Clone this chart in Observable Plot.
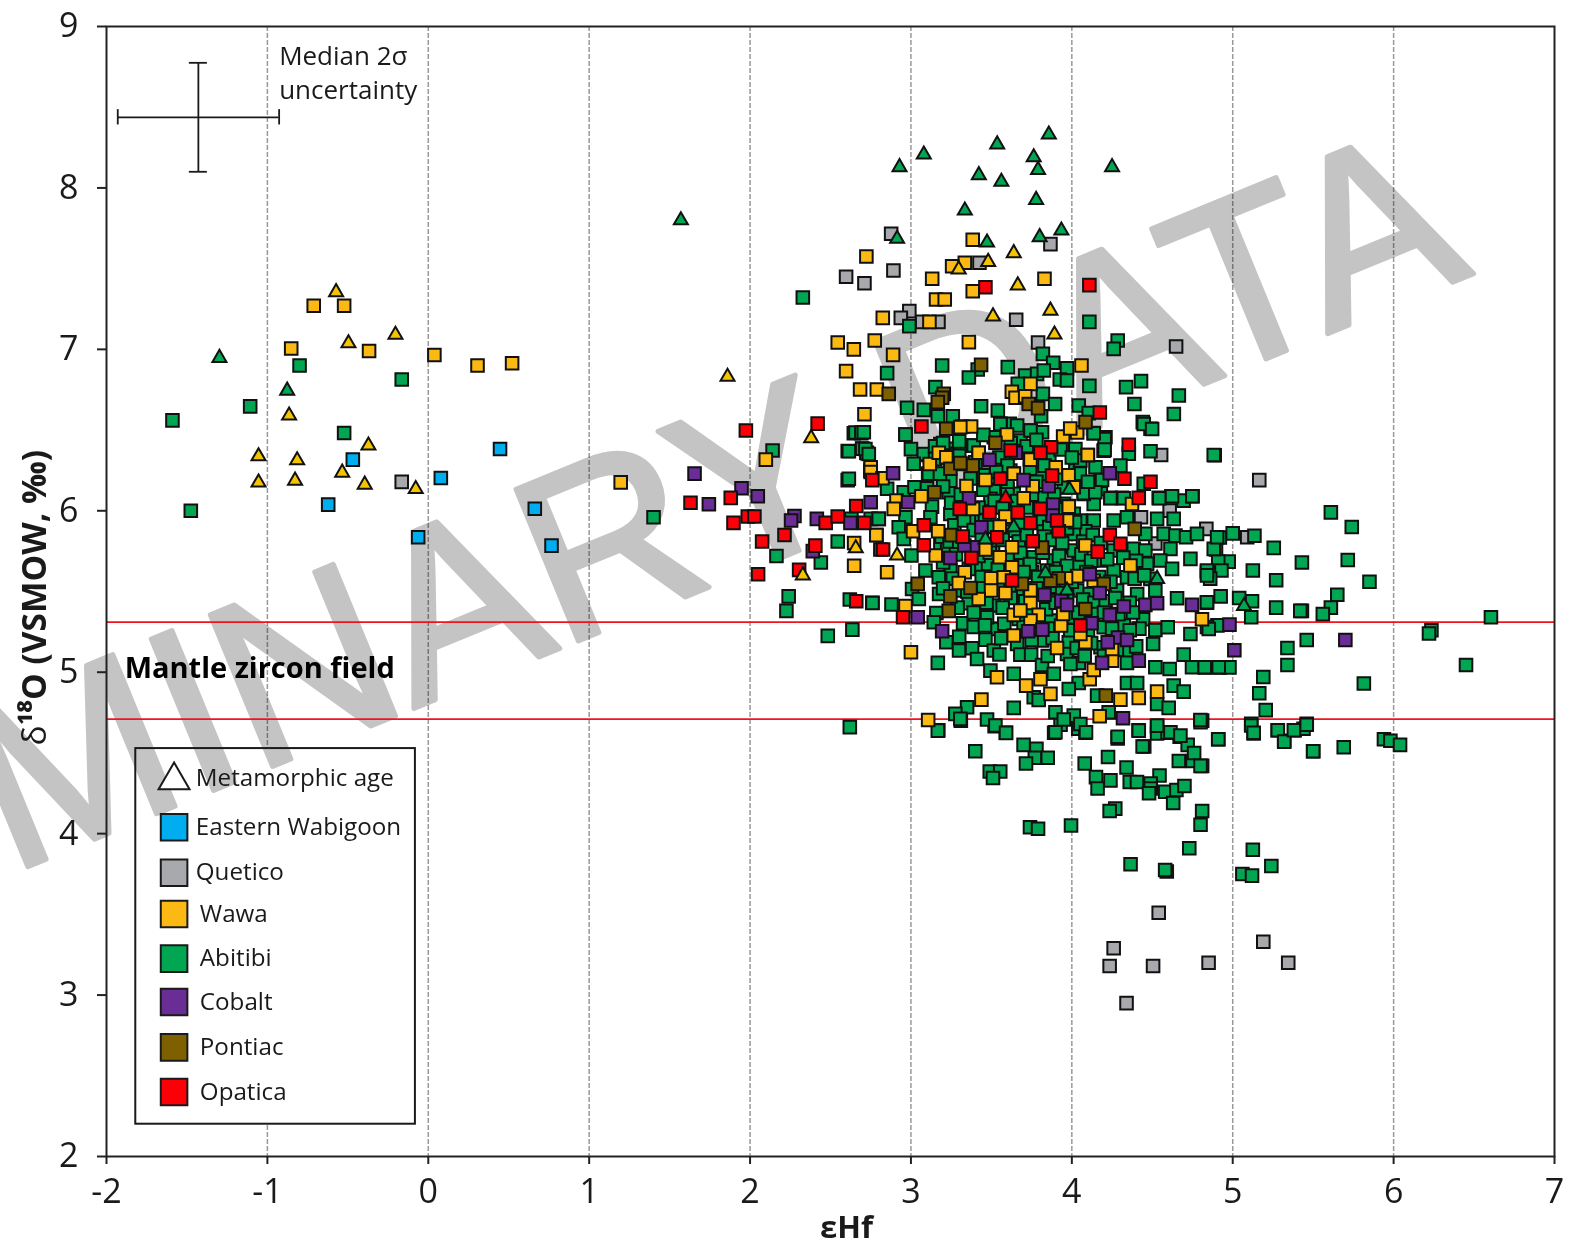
<!DOCTYPE html>
<html>
<head>
<meta charset="utf-8">
<script src="https://cdn.jsdelivr.net/npm/d3@7"></script>
<script src="https://cdn.jsdelivr.net/npm/@observablehq/plot@0.6"></script>
<style>html,body{margin:0;padding:0;background:#fff}svg{display:block}</style>
</head>
<body>
<div id="chart"></div>
<script>
const xTicks=[-2,-1,0,1,2,3,4,5,6,7];
const yTicks=[2,3,4,5,6,7,8,9];
const mantleField=[5.31,4.71];

const metaGreen=[[3.857,8.331],[3.536,8.27],[3.08,8.207],[3.763,8.19],[2.929,8.129],[3.79,8.112],[3.422,8.079],[3.562,8.038],[4.25,8.129],[3.778,7.926],[3.335,7.86],[2.914,7.685],[3.473,7.662],[3.8,7.695],[3.935,7.736],[-1.298,6.947],[-0.877,6.744],[1.57,7.8],[5.07,5.41],[3.985,6.131],[3.463,5.822],[3.639,5.898],[3.836,5.613],[3.97,5.506],[4.53,5.578]];
const metaWawa=[[3.639,7.596],[3.48,7.542],[3.297,7.495],[3.664,7.396],[3.867,7.24],[3.51,7.204],[3.892,7.092],[2.38,6.45],[1.86,6.83],[2.657,5.768],[2.328,5.6],[2.914,5.723],[-0.573,7.354],[-0.496,7.038],[-0.204,7.09],[-0.865,6.59],[-0.372,6.404],[-1.055,6.338],[-0.815,6.313],[-0.535,6.236],[-1.055,6.175],[-0.828,6.187],[-0.395,6.162],[-0.078,6.135]];
const metaOpatica=[[3.589,6.078]];

const easternWabigoon=[[0.446,6.383],[-0.469,6.317],[0.078,6.203],[-0.622,6.038],[0.662,6.013],[-0.063,5.836],[0.766,5.784]];
const quetico=[[-0.165,6.179],[2.877,7.716],[3.867,7.652],[3.426,7.536],[2.597,7.45],[2.891,7.489],[2.711,7.41],[2.99,7.237],[2.937,7.195],[3.07,7.17],[3.171,7.17],[3.654,7.183],[3.79,7.042],[4.648,7.018],[4.555,6.346],[5.165,6.19],[4.608,6.001],[4.43,5.96],[4.519,5.797],[4.836,5.888],[3.508,6.208],[5.09,5.836],[4.54,3.51],[4.26,3.29],[4.235,3.18],[4.505,3.18],[4.85,3.2],[5.19,3.33],[5.345,3.2],[4.34,2.95]];
const abitibi=[
[5.61,5.99],[5.74,5.9],[5.255,5.77],[5.43,5.68],[5.715,5.695],[5.125,5.63],[5.27,5.57],[5.85,5.56],[5.65,5.48],[5.61,5.4],[5.56,5.36],[5.27,5.4],[5.43,5.38],[5.42,5.38],[5.12,5.44],[5.04,5.46],[5.115,5.34],[4.925,5.47],[4.84,5.43],[6.605,5.34],[6.235,5.26],[6.22,5.24],[5.46,5.2],[5.34,5.15],[5.34,5.045],[6.45,5.045],[5.815,4.93],[5.19,4.97],[5.165,4.87],[5.205,4.765],[4.83,5.03],[4.92,5.03],[4.98,5.03],[5.115,4.68],[5.13,4.62],[5.28,4.64],[5.32,4.575],[5.385,4.64],[5.44,4.65],[5.46,4.68],[5.5,4.51],[5.69,4.535],[5.94,4.585],[5.98,4.575],[6.04,4.55],[4.91,4.585],[4.81,4.42],[4.81,4.7],[4.896,5.76],[4.975,5.685],[4.91,5.685],[4.93,5.63],[4.84,5.62],[4.86,5.58],[4.92,5.835],[5,5.86],[5.135,5.845],[4.905,5.29],[4.84,5.28],
[3.17,4.64],[3.31,4.7],[3.52,4.665],[3.59,4.625],[3.4,4.51],[3.7,4.55],[3.78,4.525],[3.85,4.47],[3.77,4.47],[3.715,4.435],[3.49,4.385],[3.555,4.385],[3.51,4.345],[3.89,4.625],[3.93,4.675],[4.04,4.65],[4.085,4.625],[4.285,4.59],[4.415,4.64],[4.53,4.66],[4.53,4.62],[4.595,4.625],[4.67,4.6],[4.72,4.55],[4.91,4.585],[4.45,4.54],[4.44,4.54],[4.225,4.475],[4.08,4.435],[4.34,4.41],[4.15,4.35],[4.24,4.33],[4.16,4.28],[4.36,4.32],[4.405,4.32],[4.545,4.36],[4.49,4.31],[4.49,4.28],[4.48,4.25],[4.58,4.26],[4.65,4.27],[4.7,4.295],[4.63,4.19],[4.665,4.45],[4.75,4.45],[4.76,4.5],[4.8,4.42],[4.81,4.14],[4.8,4.055],[4.27,4.155],[4.235,4.14],[3.74,4.04],[3.79,4.03],[3.995,4.05],[4.73,3.91],[4.365,3.81],[4.59,3.765],[4.58,3.775],[5.125,3.9],[5.24,3.8],[5.06,3.75],[5.12,3.74],[5.115,4.67],[5.13,4.625],[5.28,4.64],[5.32,4.57],[5.38,4.64],[5.46,4.675],[5.5,4.51],[4.8,4.69],
[1.4,5.96],[2.14,6.373],[2.645,6.48],[2.69,6.48],[2.607,6.37],[2.697,6.386],[2.727,6.357],[2.607,6.19],[2.75,6.26],[2.164,5.72],[2.545,5.81],[2.44,5.68],[2.24,5.47],[2.226,5.38],[2.62,5.45],[2.76,5.43],[2.636,5.264],[2.483,5.225],[2.62,4.66],[2.75,5.95],[2.8,5.95],[2.63,5.95],
[-0.8,6.9],[-0.165,6.813],[-1.107,6.647],[-1.59,6.56],[-0.523,6.482],[-1.476,6],
[2.328,7.321],[4.109,7.17],[2.99,7.144],[4.285,7.055],[4.26,7.003],[3.82,6.972],[3.884,6.917],[3.194,6.9],[3.602,6.89],[3.415,6.875],[3.97,6.883],[2.852,6.853],[3.36,6.826],[3.71,6.838],[3.784,6.848],[3.826,6.869],[3.925,6.813],[3.97,6.807],[3.664,6.786],[4.43,6.803],[4.337,6.766],[4.109,6.774],[3.152,6.766],[3.82,6.724],[4.389,6.662],[3.896,6.662],[3.436,6.648],[3.54,6.621],[2.976,6.638],[3.08,6.625],[4.043,6.652],[4.634,6.6],[3.167,6.586],[3.26,6.586],[3.809,6.586],[4.105,6.605],[4.441,6.549],[4.489,6.508],[3.614,6.539],[3.556,6.539],[3.743,6.497],[3.815,6.487],[4.209,6.456],[4.136,6.481],[2.966,6.473],[2.655,6.485],[2.692,6.485],[2.614,6.369],[2.697,6.384],[2.723,6.359],[3,6.382],[4.018,6.38],[4.2,6.373],[4.354,6.353],[4.489,6.369],[3.1,6.346],[3.256,6.384],[3.38,6.404],[3.515,6.456],[3.68,6.435],[4.302,6.28],[2.614,6.198],[4.665,6.714],[3.107,6.229],[3.287,6.353],[3.453,6.25],[3.556,6.29],[3.618,6.249],[3.805,6.229],[4.147,6.27],[4.022,6.249],
[4.888,6.344],[4.54,6.08],[4.619,6.09],[4.695,6.063],[4.75,6.09],[4.24,6.08],[4.312,6.08],[4.136,6.042],[4.074,6.104],[4.18,6.135],[4.178,6.187],[4.198,6.372],
[2.966,6.472],[2.707,6.487],[3.743,6.497],[4.204,6.445],[4.136,6.48],[4.447,6.538],[4.499,6.507],[3.556,6.538],[3.66,6.528],[2.717,6.383],[2.738,6.352],[4.022,6.383],[4.204,6.379],[4.882,6.346],[3.08,6.352],[3.307,6.404],[3.39,6.404],[3.183,6.414],[2.748,6.249],[3.111,6.229],[4.447,6.167],[4.188,6.191],[4.053,6.311],[3.836,6.301],[3.598,6.301],[3.017,6.291],
[2.852,6.136],[3.235,6.115],[4.074,6.109],[4.146,6.115],[4.24,6.078],[4.323,6.078],[4.544,6.078],[4.623,6.09],[4.749,6.09],[2.955,6.115],[3.131,6.026],[3.022,6.146],[3.95,6.146],[3.515,6.125],[3.639,6.105],[3.245,6.187],[3.494,6.074],
[2.8,5.95],[2.966,5.96],[3.245,5.98],[4.012,5.981],[4.136,5.94],[4.053,5.94],[4.343,5.96],[4.53,5.95],[2.924,5.898],[3.121,5.96],[3.411,5.96],[3.639,6.022],[3.95,6.043],[4.633,5.95],[4.084,5.873],[4.26,5.94],[4.457,5.857],[4.571,5.857],[4.644,5.846],[4.71,5.836],[4.778,5.857],[4.882,5.764],[4.903,5.836],[2.955,5.826],[3.639,5.877],[3.825,5.898],[4.012,5.857],[3.183,5.795],
[3.003,5.723],[3.929,5.774],[4.012,5.754],[4.385,5.764],[4.613,5.764],[4.737,5.702],[4.457,5.754],[4.26,5.754],[3.225,5.764],[3.66,5.692],[3.473,5.671],[3.763,5.712],[4.177,5.692],[3.888,5.692],[4.55,5.692],[4.623,5.64],[4.468,5.671],[4.84,5.63],[4.84,5.6],[4.26,5.63],[4.043,5.671],[3.753,5.619],[3.401,5.65],[3.245,5.63],[3.09,5.63],[3.173,5.588],[4.343,5.588],[4.488,5.578],[3.846,5.63],
[3.007,5.516],[4.406,5.485],[4.105,5.485],[4.281,5.506],[4.519,5.506],[4.654,5.458],[4.84,5.433],[4.033,5.506],[3.66,5.506],[3.307,5.506],[3.97,5.475],[3.175,5.485],[2.761,5.429],[2.879,5.419],[3.049,5.454],[3.359,5.427],[3.888,5.444],[3.515,5.413],
[3.158,5.367],[3.142,5.31],[3.324,5.303],[4.443,5.328],[4.519,5.262],[4.596,5.279],[4.737,5.237],[4.851,5.268],[3.525,5.268],[3.473,5.34],[4.323,5.289],[3.867,5.32],[4.012,5.34],[4.198,5.279],
[3.22,5.186],[3.463,5.202],[3.66,5.175],[3.981,5.186],[4.343,5.134],[4.505,5.175],[3.815,5.196],[4.178,5.155],[3.299,5.134],[3.38,5.148],[3.515,5.134],[3.68,5.109],[3.747,5.109],[4.695,5.109],[3.97,5.113],
[3.167,5.058],[3.411,5.082],[3.815,5.045],[4.043,5.058],[3.991,5.051],[4.343,5.058],[4.519,5.031],[4.608,5.02],[4.747,5.031],[4.826,5.031],[4.913,5.031],[3.494,5.01],[3.639,4.99],[3.888,4.99],
[4.043,4.933],[4.343,4.933],[4.406,4.933],[3.981,4.896],[4.633,4.917],[4.695,4.88],[3.763,4.845],[3.794,4.828],[4.157,4.855],[4.53,4.803],[4.602,4.779],[3.639,4.779],[3.349,4.783],[3.276,4.742],[3.307,4.711],[3.473,4.707],[3.898,4.752],[4.012,4.731],[4.053,4.679],[3.95,4.707],[4.229,4.752],[4.799,4.704],[4.53,4.669],[4.416,4.638],[3.525,4.67],[3.591,4.624],[3.167,4.638],[3.898,4.628],[4.088,4.628],[4.285,4.6],[4.613,4.628],[4.675,4.607],
[3.25,6.05],[3.31,6.1],[3.36,5.95],[3.42,6.02],[3.45,6.13],[3.52,6.06],[3.57,6.02],[3.6,6.13],[3.66,6.06],[3.72,6.02],[3.76,6.1],[3.83,6.08],[3.89,6.1],[3.93,6.01],[3.27,5.91],[3.33,5.94],[3.39,5.88],[3.46,5.94],[3.5,5.9],[3.58,5.91],[3.62,5.95],[3.68,5.92],[3.8,5.95],[3.86,5.9],[3.97,5.89],[4.02,5.93],[3.19,5.84],[3.24,5.81],[3.3,5.79],[3.44,5.83],[3.51,5.79],[3.57,5.82],[3.67,5.81],[3.72,5.85],[3.83,5.84],[3.88,5.82],[3.94,5.8],[4.07,5.81],[4.13,5.85],[4.18,5.8],[3.28,5.73],[3.36,5.64],[3.42,5.72],[3.49,5.74],[3.6,5.71],[3.68,5.74],[3.74,5.67],[3.82,5.74],[3.92,5.72],[3.97,5.66],[4.06,5.73],[4.12,5.69],[4.22,5.7],[4.32,5.71],[4.4,5.69],[3.2,5.68],[3.26,5.58],[3.44,5.59],[3.54,5.64],[3.7,5.62],[3.79,5.59],[3.9,5.62],[4,5.56],[4.09,5.62],[4.17,5.59],[4.24,5.56],[4.39,5.58],[4.45,5.6],[3.2,5.52],[3.35,5.5],[3.45,5.52],[3.54,5.55],[3.62,5.46],[3.71,5.44],[3.78,5.52],[3.89,5.53],[3.94,5.49],[4.07,5.45],[4.14,5.43],[4.21,5.44],[4.27,5.46],[4.36,5.43],[3.29,5.4],[3.39,5.37],[3.47,5.43],[3.57,5.4],[3.67,5.33],[3.72,5.38],[3.84,5.39],[3.9,5.43],[4.04,5.37],[4.13,5.36],[4.2,5.37],[4.29,5.36],[4.38,5.37],[4.42,5.27],[3.39,5.28],[3.46,5.29],[3.58,5.3],[3.7,5.28],[3.77,5.31],[3.85,5.27],[3.99,5.26],[4.1,5.25],[4.25,5.27],[4.36,5.26],[3.3,5.22],[3.56,5.21],[3.75,5.2],[3.88,5.21],[4.03,5.15],[4.12,5.18],[4.28,5.14],[4.4,5.16],[3.55,5.11],[3.85,5.1],[4.08,5.1],[4.2,5.1],
[3.15,6.4],[3.2,6.42],[3.3,6.43],[3.45,6.47],[3.62,6.42],[3.66,6.37],[3.72,6.4],[3.78,6.44],[3.86,6.34],[3.93,6.38],[3.55,6.33],[3.3,6.34],[3.4,6.3],[3.15,6.32],[3.6,6.28],[3.74,6.26],[3.83,6.28],[3.9,6.2],[3.53,6.24],[3.45,6.22],[3.18,6.23],[3.1,6.14],[3.2,6.15],[3.37,6.2],[3.6,6.18],[3.78,6.18],[4.05,6.23],[4.1,6.18],[4,6.33]
];
const wawa=[
[-0.712,7.27],[-0.523,7.27],[-0.852,7.005],[-0.368,6.99],[0.038,6.965],[0.306,6.9],[0.521,6.914],[1.196,6.176],
[3.384,7.679],[2.723,7.575],[3.335,7.536],[3.256,7.515],[3.132,7.437],[3.83,7.437],[3.384,7.36],[3.156,7.309],[3.21,7.309],[2.825,7.195],[3.115,7.17],[2.545,7.042],[2.645,7],[2.775,7.055],[2.889,6.966],[3.36,7.045],[4.06,6.9],[2.597,6.865],[2.684,6.751],[2.788,6.751],[2.711,6.598],[3.627,6.737],[3.743,6.786],[3.65,6.7],[3.71,6.71],[3.32,6.522],[3.374,6.522],[3.597,6.473],[3.946,6.46],[4.033,6.485],[4.1,6.345],[3.117,6.29],[3.173,6.36],[3.225,6.33],[3.308,6.29],[3.42,6.36],[3.739,6.32],[3.9,6.27],[3.98,6.22],[3.64,6.23],[2.75,6.27],[3.99,6.51],
[2.098,6.317],[2.647,5.66],[2.647,5.8],[2.786,5.85],[2.75,6.24],
[4.374,6.042],[3.98,6.03],
[4.099,6.346],[3.22,6.332],[3.421,6.359],[3.743,6.317],[3.639,6.229],[3.345,6.154],[3.463,6.191],[3.757,6.152],[2.823,6.202],[3.065,6.09],[2.91,6.063],[3.701,6.078],[3.981,6.026],[3.386,6.012],[3.587,5.964],[3.552,5.902],[3.97,5.94],[3.013,5.873],[3.169,5.873],[2.785,5.849],[3.628,5.774],[4.084,5.785],[3.463,5.76],[3.154,5.723],[3.552,5.712],[4.364,5.661],[3.334,5.619],[2.852,5.619],[4.033,5.595],[3.964,5.582],[3.498,5.582],[3.297,5.553],[3.498,5.506],[3.587,5.491],[3.743,5.506],[3.421,5.454],[3.743,5.429],[2.966,5.41],[3.639,5.355],[3.794,5.355],[4.809,5.328],[3.933,5.289],[3.639,5.227],[4.084,5.186],[3.908,5.15],[4.25,5.072],[3,5.124],[3.535,4.969],[3.805,4.956],[4.111,4.956],[3.716,4.917],[3.867,4.866],[3.438,4.83],[4.302,4.83],[4.416,4.841],[4.53,4.88],[3.107,4.704],[4.173,4.727],[4.136,5.567],[4.136,5.014],[4.053,5.237],[3.946,5.361],[4.25,5.144],[3.628,5.65],[3.577,5.588],[4.012,6.146],[3.307,6.518],[2.893,6.012],[3.743,5.32],[3.68,5.382]
];
const cobalt=[[1.655,6.23],[1.744,6.04],[1.947,6.14],[2.048,6.09],[2.276,5.968],[2.255,5.94],[2.415,5.95],[2.624,5.925],[2.75,6.053],[2.39,5.75],[3.488,6.316],[3.652,6.36],[2.889,6.233],[4.236,6.233],[3.7,6.19],[3.856,6.152],[2.982,6.053],[3.361,6.078],[3.883,6.039],[3.881,5.97],[3.438,5.898],[3.386,5.774],[3.332,5.785],[3.245,5.708],[4.111,5.607],[4.173,5.491],[3.83,5.48],[3.935,5.442],[3.97,5.417],[4.323,5.407],[4.457,5.417],[4.53,5.427],[4.747,5.417],[3.042,5.34],[4.236,5.355],[4.122,5.303],[3.194,5.254],[3.728,5.254],[3.817,5.264],[4.287,5.215],[4.223,5.186],[4.343,5.2],[4.188,5.058],[4.416,5.072],[4.318,4.715],[4.98,5.295],[5.01,5.136],[5.7,5.2]];
const pontiac=[[3.436,6.904],[2.862,6.724],[3.204,6.724],[3.194,6.7],[3.167,6.673],[3.732,6.662],[3.79,6.636],[3.219,6.508],[4.085,6.549],[3.525,6.421],[3.384,6.28],[3.245,6.26],[3.307,6.295],[3.146,6.115],[3.252,5.849],[4.391,5.888],[3.815,5.772],[3.042,5.547],[3.37,5.522],[3.245,5.47],[3.235,5.38],[3.919,5.582],[4.084,5.392],[4.198,5.547],[4.211,4.855],[3.867,5.567],[3.69,5.547]];
const opatica=[[1.974,6.497],[2.42,6.54],[1.88,6.08],[1.63,6.05],[1.897,5.925],[1.986,5.965],[2.027,5.965],[2.075,5.81],[2.214,5.85],[2.47,5.925],[2.545,5.965],[2.66,6.03],[2.71,5.925],[2.76,6.19],[2.05,5.607],[2.305,5.634],[2.66,5.44],[2.406,5.784],[2.81,5.76],[3.463,7.385],[4.109,7.398],[3.065,6.522],[4.174,6.609],[4.354,6.409],[3.871,6.394],[3.805,6.36],[3.62,6.373],[4.327,6.198],[3.877,6.218],[3.556,6.198],[4.489,6.18],[4.416,6.08],[3.303,6.012],[3.488,5.989],[3.664,5.989],[3.805,6.012],[3.08,5.91],[3.743,5.925],[3.919,5.873],[4.236,5.849],[3.322,5.84],[3.535,5.836],[3.757,5.811],[2.827,5.76],[3.08,5.787],[4.302,5.795],[4.161,5.747],[3.376,5.708],[3.628,5.568],[2.951,5.34],[4.053,5.289],[3.908,5.94]];

const groups=[
  ["Eastern Wabigoon","#00aeef",easternWabigoon],
  ["Quetico","#a7a9ac",quetico],
  ["Abitibi","#00a651",abitibi],
  ["Wawa","#fdb913",wawa],
  ["Pontiac","#7f6000",pontiac],
  ["Cobalt","#6a2d96",cobalt],
  ["Opatica","#fb0007",opatica]
];
const triangles=[["#00a651",metaGreen],["#f5c400",metaWawa],["#fb0007",metaOpatica]];

const legendOrder=["Eastern Wabigoon","Quetico","Wawa","Abitibi","Cobalt","Pontiac","Opatica"];
const legendColors=["#00aeef","#a7a9ac","#fdb913","#00a651","#6a2d96","#7f6000","#fb0007"];
const legendY=[4.04,3.758,3.502,3.226,2.957,2.676,2.4];
const legendTextX=[-1.435,-1.435,-1.41,-1.41,-1.41,-1.41,-1.41];

const font="'Open Sans', sans-serif";
const grid=[-1,0,1,2,3,4,5,6];
const ink="#1a1a1a";

const chart=Plot.plot({
  width:1583,height:1249,
  marginLeft:106,marginRight:29,marginTop:26,marginBottom:93,
  style:{fontFamily:font,background:"#fff",color:ink},
  x:{domain:[-2,7],label:null},
  y:{domain:[2,9],label:null},
  marks:[
    Plot.ruleX(grid,{stroke:"#999",strokeWidth:1.5,strokeDasharray:"5,2"}),
    Plot.rect([{x1:-1.818,x2:-0.08,y1:2.2,y2:4.527}],{x1:"x1",x2:"x2",y1:"y1",y2:"y2",fill:"#fff"}),
    Plot.text(["PRELIMINARY DATA"],{x:[6.5],y:[7.47],text:d=>d,rotate:-22.3,textAnchor:"end",lineAnchor:"bottom",fontSize:238,fontFamily:"'Liberation Sans', sans-serif",fill:"#c4c4c4",stroke:"#c4c4c4",strokeWidth:5,strokeLinejoin:"round",mixBlendMode:"multiply"}),
    Plot.ruleY(mantleField,{stroke:"#f0141e",strokeWidth:1.8}),
    ...groups.map(([,c,pts])=>Plot.dot(pts,{x:d=>d[0],y:d=>d[1],symbol:"square",r:7.1,fill:c,stroke:"#111",strokeWidth:2})),
    ...triangles.map(([c,pts])=>Plot.dot(pts,{x:d=>d[0],y:d=>d[1],symbol:"triangle",r:5.2,fill:c,stroke:"#111",strokeWidth:2})),
    // uncertainty cross
    Plot.ruleY([8.437],{x1:-1.93,x2:-0.927,stroke:ink,strokeWidth:1.8}),
    Plot.ruleX([-1.429],{y1:8.1,y2:8.775,stroke:ink,strokeWidth:1.8}),
    Plot.ruleX([-1.93,-0.927],{y1:8.39,y2:8.485,stroke:ink,strokeWidth:1.8}),
    Plot.ruleY([8.1,8.775],{x1:-1.485,x2:-1.373,stroke:ink,strokeWidth:1.8}),
    Plot.text(["Median 2σ","uncertainty"],{x:[-0.927,-0.927],y:[8.81,8.6],text:d=>d,textAnchor:"start",fontSize:26,fill:ink}),
    Plot.text(["Mantle zircon field"],{x:[-1.887],y:[5.02],text:d=>d,textAnchor:"start",fontSize:29,fontWeight:700,fill:"#000"}),
    // legend
    Plot.rect([{x1:-1.818,x2:-0.08,y1:2.2,y2:4.527}],{x1:"x1",x2:"x2",y1:"y1",y2:"y2",fill:"none",stroke:ink,strokeWidth:2}),
    Plot.dot([0],{x:[-1.58],y:[4.33],symbol:"triangle",r:11.5,fill:"#fff",stroke:ink,strokeWidth:2}),
    Plot.text(["Metamorphic age"],{x:[-1.445],y:[4.346],text:d=>d,textAnchor:"start",fontSize:24.2,fill:ink}),
    Plot.dot(legendOrder,{x:()=>-1.58,y:(d,i)=>legendY[i],symbol:"square",r:15,fill:(d,i)=>legendColors[i],stroke:ink,strokeWidth:2}),
    Plot.text(legendOrder,{x:(d,i)=>legendTextX[i]-0.01,y:(d,i)=>legendY[i],text:d=>d,textAnchor:"start",fontSize:24.2,fill:ink}),
    Plot.frame({stroke:"#222",strokeWidth:2}),
    Plot.axisX(xTicks,{anchor:"bottom",tickSize:8,tickPadding:14,fontSize:34,tickFormat:d=>String(d),label:null,stroke:"#222",strokeWidth:2,fill:ink}),
    Plot.axisY(yTicks,{anchor:"left",tickSize:9,tickPadding:19,fontSize:34,tickFormat:d=>String(d),label:null,stroke:"#222",strokeWidth:2,fill:ink}),
    Plot.text(["εHf"],{x:[2.6],y:[2],dy:72,text:d=>d,fontSize:31,fontWeight:700,fill:ink}),
    Plot.text(["δ¹⁸O (VSMOW, ‰)"],{x:[-2],y:[5.462],dx:-71,rotate:-90,text:d=>d,fontSize:33.5,fontWeight:700,fill:ink})
  ]
});
d3.select(chart).selectAll("text").filter(function(){return this.textContent==="δ¹⁸O (VSMOW, ‰)";}).each(function(){
  const t=d3.select(this).text("");
  t.append("tspan").attr("font-weight",400).text("δ");
  t.append("tspan").text("¹⁸O (VSMOW, ‰)");
});
document.getElementById("chart").appendChild(chart);
</script>
</body>
</html>
